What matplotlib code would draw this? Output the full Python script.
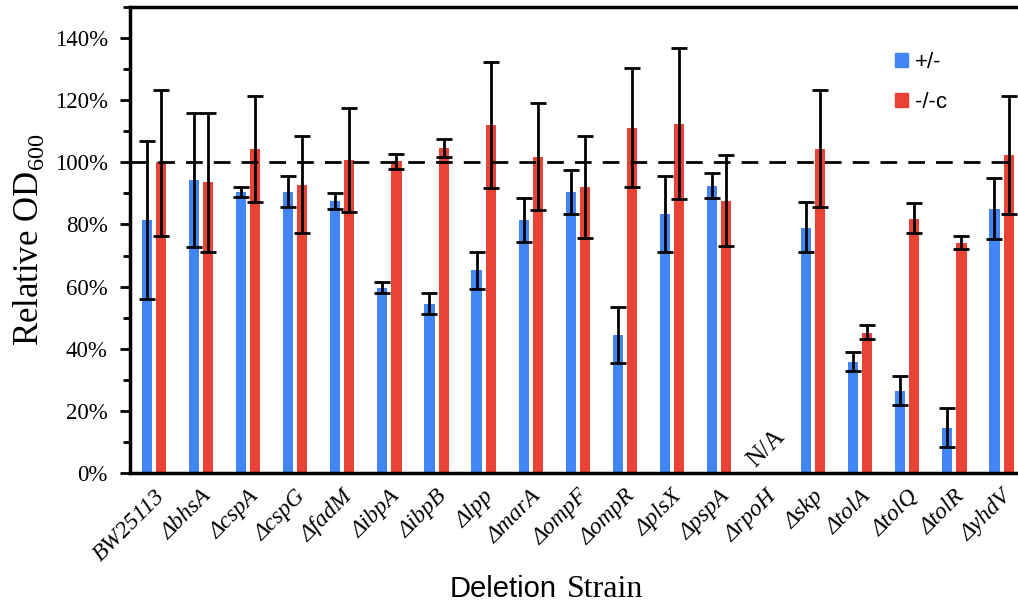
import numpy as np
import matplotlib
matplotlib.use("Agg")
import matplotlib.pyplot as plt
from matplotlib.patches import Patch
from matplotlib.ticker import MultipleLocator, FuncFormatter

plt.rcParams['font.family'] = ['Liberation Serif', 'DejaVu Serif']
plt.rcParams['mathtext.fontset'] = 'custom'
plt.rcParams['mathtext.rm'] = 'Liberation Serif'

# strains and relative OD600 (%), error bars as low / high bounds
strains = ['BW25113', 'bhsA', 'cspA', 'cspG', 'fadM', 'ibpA', 'ibpB', 'lpp', 'marA',
           'ompF', 'ompR', 'plsX', 'pspA', 'rpoH', 'skp', 'tolA', 'tolQ', 'tolR', 'yhdV']

het_mean = [81.3, 94.3, 90.3, 90.6, 87.6, 59.5, 54.5, 65.2, 81.3, 90.3, 44.5, 83.3, 92.4,
            np.nan, 79.0, 35.8, 26.5, 14.5, 85.0]
het_hi = [106.9, 115.8, 92.0, 95.5, 90.2, 61.4, 57.8, 71.0, 88.4, 97.4, 53.4, 95.5, 96.5,
          np.nan, 87.1, 39.0, 31.1, 20.9, 94.9]
het_lo = [56.0, 72.7, 88.8, 85.6, 84.9, 57.9, 51.2, 59.2, 74.2, 83.3, 35.4, 71.2, 88.4,
          np.nan, 71.2, 32.9, 21.9, 8.4, 75.2]

comp_mean = [100.0, 93.7, 104.4, 92.8, 100.6, 100.5, 104.5, 111.9, 101.8, 92.0, 111.0, 112.3, 87.7,
             np.nan, 104.4, 45.2, 81.9, 74.1, 102.3]
comp_hi = [123.2, 115.8, 121.5, 108.4, 117.4, 102.8, 107.5, 132.2, 119.0, 108.6, 130.3, 136.7, 102.3,
           np.nan, 123.4, 47.6, 86.8, 76.2, 121.3]
comp_lo = [76.4, 71.1, 87.1, 77.4, 84.0, 97.8, 101.7, 91.7, 84.6, 75.5, 92.0, 88.1, 73.1,
           np.nan, 85.5, 43.1, 77.3, 72.1, 83.3]

missing = 'rpoH'

blue = '#4285F4'
red = '#EA4335'

fig = plt.figure(figsize=(10.18, 6.04), dpi=100)
ax = fig.add_axes([0.1277, 0.2169, 0.8723, 0.7715])

x = np.arange(len(strains))
w = 0.215
off = 0.15


def draw(xs, mean, lo, hi, color):
    mean = np.array(mean)
    lo = np.array(lo)
    hi = np.array(hi)
    ok = ~np.isnan(mean)
    ax.bar(xs[ok], mean[ok], width=w, color=color, edgecolor='none', zorder=2)
    ax.errorbar(xs[ok], mean[ok], yerr=[mean[ok] - lo[ok], hi[ok] - mean[ok]],
                fmt='none', ecolor='black', elinewidth=2, capsize=5.5, capthick=2, zorder=3)


draw(x - off, het_mean, het_lo, het_hi, blue)
draw(x + off, comp_mean, comp_lo, comp_hi, red)

# wild-type reference line
ax.axhline(100, color='black', lw=2, dashes=(6, 4), zorder=4)

# N/A for the strain that could not be measured
i = strains.index(missing)
ax.text(x[i], 7.9, 'N/A', rotation=45, ha='center', va='center', fontsize=18)

ax.set_xlim(-0.51, 18.35)
ax.set_ylim(0, 150)
ax.yaxis.set_major_locator(MultipleLocator(20))
ax.yaxis.set_minor_locator(MultipleLocator(10))
ax.yaxis.set_major_formatter(FuncFormatter(lambda v, p: '%d%%' % v if v <= 140 else ''))
ax.tick_params(axis='y', which='major', length=7, width=2, labelsize=16.5, pad=9)
ax.tick_params(axis='y', which='minor', length=5, width=2)

labels = [s if s == 'BW25113' else '\u0394' + s for s in strains]
ax.set_xticks(x)
ax.set_xticklabels(labels, rotation=45, ha='right', rotation_mode='anchor',
                   fontsize=17, style='italic')
ax.tick_params(axis='x', length=0, pad=9)

for s in ['left', 'bottom', 'top']:
    ax.spines[s].set_linewidth(2.5)
ax.spines['right'].set_visible(False)

ax.set_ylabel(r'Relative OD$_{\mathrm{600}}$', fontsize=25, labelpad=6)

fig.text(557 / 1018, 1 - 597 / 604, 'Deletion', family='Liberation Sans',
         fontsize=21, ha='right', va='baseline')
fig.text(567 / 1018, 1 - 597 / 604, 'Strain', family='Liberation Serif',
         fontsize=23, ha='left', va='baseline')

handles = [Patch(color=blue), Patch(color=red)]
leg = ax.legend(handles, ['+/-', '-/-c'], loc='upper left',
                bbox_to_anchor=(895 / 1018, 1 - 52 / 604),
                bbox_transform=fig.transFigure, frameon=False, handlelength=0.6,
                handleheight=0.6, handletextpad=0.3, labelspacing=0.85,
                borderpad=0, borderaxespad=0, prop={'family': 'Liberation Sans', 'size': 16})

fig.savefig('out.png', dpi=100)
